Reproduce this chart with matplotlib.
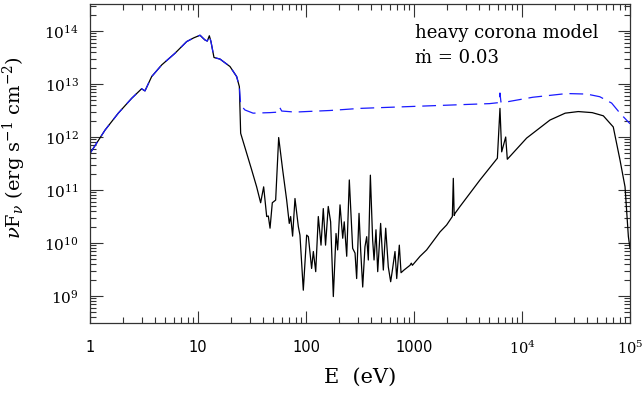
import matplotlib
matplotlib.use("Agg")
import matplotlib.pyplot as plt
import numpy as np
from matplotlib.ticker import FixedLocator, LogLocator, NullFormatter

# ---- data (log10 E [eV], log10 nuF_nu) ----
black_logE = [0.0, 0.139, 0.262, 0.386, 0.478, 0.509, 0.571, 0.664, 0.787, 0.895,
              0.960, 1.019, 1.049, 1.065, 1.086, 1.105, 1.120, 1.148, 1.204, 1.296,
              1.358, 1.383, 1.395, 1.435, 1.497, 1.543, 1.580, 1.608, 1.636, 1.651,
              1.667, 1.688, 1.719, 1.747, 1.784, 1.821, 1.845, 1.858, 1.876, 1.898,
              1.929, 1.944, 1.975, 2.006, 2.022, 2.052, 2.068, 2.090, 2.114, 2.139,
              2.160, 2.181, 2.206, 2.228, 2.253, 2.278, 2.293, 2.315, 2.340, 2.354,
              2.377, 2.401, 2.432, 2.454, 2.469, 2.491, 2.506, 2.525, 2.546, 2.562,
              2.577, 2.596, 2.617, 2.630, 2.648, 2.664, 2.691, 2.716, 2.738, 2.762,
              2.784, 2.800, 2.824, 2.840, 2.864, 2.880, 2.907, 2.963, 2.975, 2.985,
              3.056, 3.117, 3.241, 3.302, 3.355, 3.364, 3.372, 3.380, 3.426, 3.611,
              3.772, 3.796, 3.812, 3.849, 3.864, 4.043, 4.259, 4.400, 4.521, 4.650,
              4.753, 4.845, 4.907, 4.954, 4.985, 5.000]
black_logF = [11.69, 12.13, 12.45, 12.73, 12.91, 12.87, 13.14, 13.36, 13.58, 13.80,
              13.87, 13.92, 13.86, 13.83, 13.81, 13.91, 13.80, 13.50, 13.47, 13.33,
              13.14, 12.95, 12.07, 11.80, 11.38, 11.06, 10.76, 11.06, 10.50, 10.51,
              10.28, 10.76, 10.81, 11.99, 11.38, 10.81, 10.37, 10.50, 10.13, 10.84,
              10.31, 10.15, 9.11, 10.15, 10.12, 9.52, 9.84, 9.46, 10.50, 9.96,
              10.65, 9.96, 10.69, 10.40, 8.99, 10.18, 9.87, 10.72, 10.09, 10.40,
              9.75, 11.19, 9.90, 9.81, 9.33, 10.56, 9.87, 9.17, 9.93, 10.12,
              9.68, 11.28, 10.06, 9.68, 10.25, 9.46, 10.37, 9.49, 10.28, 9.55,
              9.27, 9.49, 9.84, 9.33, 9.96, 9.44, 9.49, 9.58, 9.62, 9.58,
              9.75, 9.87, 10.21, 10.34, 10.50, 11.22, 10.52, 10.56, 10.69, 11.19,
              11.60, 12.54, 11.72, 12.00, 11.58, 11.98, 12.32, 12.45, 12.48, 12.46,
              12.40, 12.19, 11.57, 11.06, 10.12, 9.90]

blue_logE = [0.0, 0.139, 0.262, 0.386, 0.478, 0.509, 0.571, 0.664, 0.787, 0.895,
             0.960, 1.019, 1.049, 1.065, 1.086, 1.105, 1.120, 1.148, 1.204, 1.296,
             1.358, 1.383, 1.395, 1.435, 1.510, 1.667, 1.745, 1.759, 1.775, 1.900,
             2.000, 2.220, 2.500, 2.900, 3.300, 3.700, 3.790, 3.796, 3.805, 3.824,
             4.100, 4.414, 4.600, 4.720, 4.830, 4.907, 5.000]
blue_logF = [11.69, 12.13, 12.45, 12.73, 12.91, 12.87, 13.14, 13.36, 13.58, 13.80,
             13.87, 13.92, 13.86, 13.83, 13.81, 13.91, 13.80, 13.50, 13.47, 13.33,
             13.14, 12.95, 12.60, 12.51, 12.45, 12.46, 12.47, 12.55, 12.49, 12.47,
             12.48, 12.50, 12.54, 12.57, 12.60, 12.63, 12.65, 12.83, 12.66, 12.65,
             12.75, 12.82, 12.81, 12.76, 12.64, 12.45, 12.25]

x_ticks = [1, 10, 100, 1000, 1e4, 1e5]
x_labels = ["1", "10", "100", "1000", r"$10^4$", r"$10^5$"]
y_ticks = [1e9, 1e10, 1e11, 1e12, 1e13, 1e14]
y_labels = [r"$10^{%d}$" % n for n in range(9, 15)]

plt.rcParams["mathtext.fontset"] = "dejavuserif"

fig = plt.figure(figsize=(6.43, 3.93), dpi=100)
ax = fig.add_axes([90 / 643, 1 - 323 / 393, 540 / 643, 319 / 393])

ax.plot(10 ** np.array(black_logE), 10 ** np.array(black_logF),
        color="black", lw=0.9)
ax.plot(10 ** np.array(blue_logE), 10 ** np.array(blue_logF),
        color="#1a1aff", lw=0.9, dashes=(11, 5.5))

ax.set_xscale("log")
ax.set_yscale("log")
ax.set_xlim(1, 1e5)
ax.set_ylim(3.1e8, 3.23e14)

ax.xaxis.set_major_locator(FixedLocator(x_ticks))
ax.set_xticklabels(x_labels, fontsize=10.5, fontfamily="DejaVu Sans")
ax.yaxis.set_major_locator(FixedLocator(y_ticks))
ax.set_yticklabels(y_labels, fontsize=11)
for a in (ax.xaxis, ax.yaxis):
    a.set_minor_locator(LogLocator(base=10, subs=np.arange(2, 10), numticks=20))
    a.set_minor_formatter(NullFormatter())

ax.tick_params(which="both", direction="in", top=True, right=True, width=0.8,
               color="#333333")
ax.tick_params(which="major", length=9, pad=12)
ax.tick_params(which="minor", length=4.3)
ax.tick_params(axis="y", which="major", pad=8)
for s in ax.spines.values():
    s.set_linewidth(0.9)
    s.set_color("#333333")

ax.set_xlabel("E  (eV)", fontsize=15, fontfamily="DejaVu Serif", labelpad=8)
ax.set_ylabel(r"$\nu$F$_\nu$ (erg s$^{-1}$ cm$^{-2}$)", fontsize=14,
              fontfamily="DejaVu Serif")
ax.yaxis.set_label_coords(-0.115, 0.55)

ax.text(0.602, 0.909, "heavy corona model", transform=ax.transAxes,
        fontsize=13, fontfamily="DejaVu Serif", va="center")
ax.text(0.602, 0.83, "\u1e41 = 0.03", transform=ax.transAxes,
        fontsize=13, fontfamily="DejaVu Serif", va="center")

fig.savefig("out.png", dpi=100)
